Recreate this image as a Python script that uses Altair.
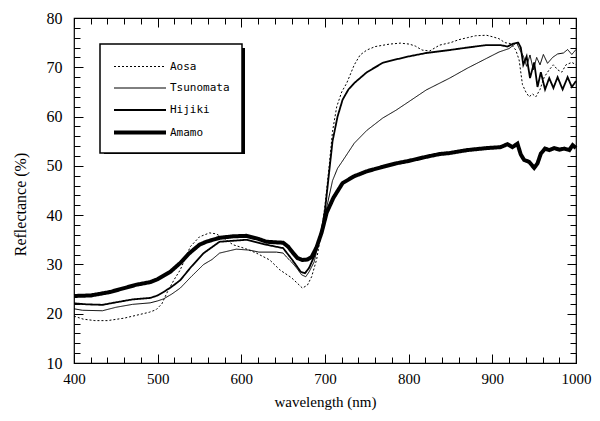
import altair as alt
import pandas as pd

series_names = ["Aosa", "Tsunomata", "Hijiki", "Amamo"]

aosa_wl = [400, 411, 425, 440, 460, 475, 490, 498, 505, 511, 520, 527, 539, 550, 562, 570, 580, 590, 605, 618, 634, 646, 660, 673, 679, 684, 690, 696, 700, 705, 709, 714, 720, 726, 735, 742, 750, 760, 777, 790, 801, 808, 816, 825, 837, 850, 860, 870, 880, 893, 900, 908, 915, 922, 928, 932, 936, 940, 944, 948, 952, 957, 962, 968, 973, 978, 983, 988, 995, 1000]
aosa_val = [19.5, 18.9, 18.6, 18.6, 19.1, 19.7, 20.3, 20.8, 22.0, 24.2, 27.0, 28.9, 33.6, 35.6, 36.4, 36.2, 35.2, 34.0, 33.2, 32.3, 30.9, 28.9, 27.3, 25.2, 25.8, 27.5, 31.0, 37.0, 42.0, 50.0, 57.0, 62.0, 65.0, 66.8, 70.5, 72.5, 73.5, 74.2, 74.7, 74.9, 74.7, 74.3, 73.5, 73.3, 74.5, 75.0, 75.6, 76.0, 76.4, 76.5, 76.2, 75.8, 75.0, 74.8, 73.5, 71.5, 66.5, 65.0, 64.0, 64.6, 64.0, 65.5, 68.0, 69.5, 70.5, 69.5, 69.0, 70.5, 71.0, 70.5]

tsun_wl = [400, 410, 434, 450, 470, 491, 500, 507, 517, 527, 540, 555, 565, 574, 594, 610, 621, 642, 650, 654, 660, 666, 672, 677, 681, 687, 694, 700, 709, 715, 721, 735, 750, 769, 785, 800, 821, 835, 849, 870, 893, 908, 920, 929, 933, 937, 941, 945, 949, 953, 957, 961, 966, 972, 978, 985, 990, 995, 1000]
tsun_val = [21.0, 20.7, 20.6, 21.3, 21.9, 22.2, 22.6, 23.0, 24.0, 25.2, 27.5, 30.0, 31.0, 32.3, 33.1, 32.9, 32.5, 32.5, 32.3, 31.5, 30.5, 29.3, 27.9, 27.5, 28.5, 30.5, 35.5, 40.0, 47.0, 49.5, 51.0, 54.6, 57.2, 59.7, 61.3, 63.0, 65.4, 66.6, 67.8, 69.8, 71.8, 73.1, 73.8, 75.0, 73.5, 72.3, 70.2, 72.5, 69.5, 72.0, 70.5, 72.6, 70.8, 72.0, 72.7, 72.9, 73.6, 72.6, 73.6]

hiji_wl = [400, 415, 434, 450, 470, 491, 500, 507, 517, 527, 540, 555, 574, 606, 630, 650, 661, 671, 676, 681, 688, 696, 700, 709, 715, 721, 728, 735, 750, 769, 785, 800, 821, 849, 870, 893, 910, 918, 925, 931, 934, 937, 941, 945, 950, 954, 958, 963, 968, 973, 978, 984, 990, 995, 1000]
hiji_val = [22.1, 21.9, 21.8, 22.3, 22.9, 23.2, 23.7, 24.4, 25.5, 26.8, 29.5, 32.3, 34.6, 35.0, 34.0, 33.3, 30.9, 28.5, 28.2, 29.3, 32.0, 37.0, 41.0, 55.0, 60.0, 63.4, 65.5, 66.8, 69.0, 70.9, 71.6, 72.2, 72.9, 73.5, 74.0, 74.5, 74.5, 74.2, 74.8, 75.0, 74.0, 70.5, 72.2, 67.8, 71.0, 66.0, 69.0, 65.5, 67.8, 65.8, 68.0, 65.5, 68.0, 66.0, 67.2]

amamo_wl = [400, 420, 443, 460, 475, 491, 500, 515, 527, 538, 550, 558, 574, 590, 606, 620, 630, 650, 656, 661, 667, 673, 679, 684, 690, 696, 702, 710, 721, 735, 750, 769, 785, 800, 820, 837, 849, 870, 893, 910, 918, 924, 930, 934, 938, 944, 950, 954, 958, 963, 968, 974, 980, 986, 992, 996, 1000]
amamo_val = [23.6, 23.7, 24.4, 25.2, 25.9, 26.4, 27.0, 28.5, 30.3, 32.3, 34.0, 34.6, 35.4, 35.7, 35.8, 35.2, 34.6, 34.4, 33.6, 32.5, 31.3, 30.9, 31.0, 31.5, 33.5, 36.5, 40.5, 43.5, 46.5, 47.9, 48.9, 49.8, 50.5, 51.0, 51.8, 52.4, 52.6, 53.2, 53.6, 53.8, 54.4, 53.8, 54.5, 52.3, 51.2, 50.8, 49.6, 50.5, 52.5, 53.5, 53.2, 53.6, 53.3, 53.5, 53.2, 54.2, 53.6]

x_major = [400, 500, 600, 700, 800, 900, 1000]
x_minor = list(range(400, 1001, 20))
y_major = [10, 20, 30, 40, 50, 60, 70, 80]
y_minor = list(range(10, 81, 2))

frames = []
for name, wl, val in [("Aosa", aosa_wl, aosa_val), ("Tsunomata", tsun_wl, tsun_val),
                      ("Hijiki", hiji_wl, hiji_val), ("Amamo", amamo_wl, amamo_val)]:
    frames.append(pd.DataFrame({"series": name, "wl": wl, "val": val}))
df = pd.concat(frames, ignore_index=True)

xs = alt.Scale(domain=[400, 1000], nice=False, zero=False)
ys = alt.Scale(domain=[10, 80], nice=False, zero=False)

leg = alt.Legend(orient="none", legendX=26, legendY=26, title=None,
                 symbolType="M-1,0H4.2", symbolSize=400,
                 fillColor="white", strokeColor="black", padding=12,
                 labelFont="DejaVu Sans Mono", labelFontSize=11, labelColor="black",
                 rowPadding=5.5, labelOffset=34, zindex=2)

base = alt.Chart(df)

lines = base.mark_line().encode(
    x=alt.X("wl:Q", scale=xs, title="wavelength (nm)",
            axis=alt.Axis(values=x_major, ticks=False, domain=False, grid=False, format="d",
                          labelFlush=False,
                          labelFont="Liberation Serif", labelFontSize=15, labelColor="black",
                          labelPadding=8, titleFont="Liberation Serif", titleFontSize=15,
                          titleFontWeight="normal", titleColor="black", titlePadding=8)),
    y=alt.Y("val:Q", scale=ys, title="Reflectance (%)",
            axis=alt.Axis(values=y_major, ticks=False, domain=False, grid=False, format="d",
                          labelFlush=False,
                          labelFont="Liberation Serif", labelFontSize=16, labelColor="black",
                          labelPadding=12, titleFont="Liberation Serif", titleFontSize=16,
                          titleFontWeight="normal", titleColor="black", titlePadding=18,
                          titleY=186)),
    color=alt.Color("series:N", sort=series_names,
                    scale=alt.Scale(domain=series_names, range=["black", "black", "black", "black"]),
                    legend=leg),
    strokeDash=alt.StrokeDash("series:N", sort=series_names,
                              scale=alt.Scale(domain=series_names, range=[[2, 2], [1, 0], [1, 0], [1, 0]]),
                              legend=leg),
    strokeWidth=alt.StrokeWidth("series:N", sort=series_names,
                                scale=alt.Scale(type="ordinal", domain=series_names, range=[1, 1, 1.8, 4]),
                                legend=leg),
    detail="series:N",
)

shadow = alt.Chart(pd.DataFrame({"k": [0]})).mark_rect(color="black").encode(
    x=alt.value(30), x2=alt.value(171), y=alt.value(30), y2=alt.value(136)
)


def tick_layer(xo, yo, xv, yv, size):
    return base.mark_point(opacity=0).encode(
        x=alt.X("wl:Q", scale=xs, title=None,
                axis=alt.Axis(orient=xo, values=xv, labels=False, domain=False, grid=False,
                              tickSize=size, offset=-size, tickColor="black", tickWidth=1)),
        y=alt.Y("val:Q", scale=ys, title=None,
                axis=alt.Axis(orient=yo, values=yv, labels=False, domain=False, grid=False,
                              tickSize=size, offset=-size, tickColor="black", tickWidth=1)),
    )


chart = alt.layer(
    lines,
    shadow,
    tick_layer("bottom", "left", x_major, y_major, 9),
    tick_layer("bottom", "left", x_minor, y_minor, 6),
    tick_layer("top", "right", x_major, y_major, 9),
    tick_layer("top", "right", x_minor, y_minor, 6),
).resolve_axis(x="independent", y="independent").properties(
    width=502, height=345,
    padding={"left": 66, "top": 10, "right": 16, "bottom": 50},
    autosize=alt.AutoSizeParams(type="none"),
).configure_view(stroke="black", strokeWidth=1.2).configure_legend(strokeWidth=1.5)

chart.save("out.html", embed_options={"renderer": "svg", "actions": False})
